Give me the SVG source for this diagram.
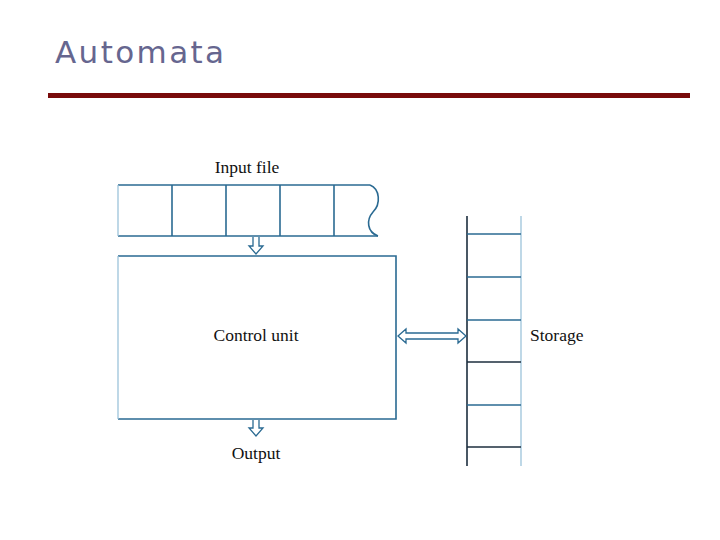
<svg xmlns="http://www.w3.org/2000/svg" width="720" height="540" viewBox="0 0 720 540">
<style>
.ln{stroke:#2a6a92;stroke-width:1.6;fill:none}
.lt{stroke:#9cc3da;stroke-width:1.3;fill:none}
.dk{stroke:#1c2e3e;stroke-width:1.6;fill:none}
.arr{stroke:#2a6a92;stroke-width:1.3;fill:#fff;stroke-linejoin:miter}
.lbl{font-family:"Liberation Serif",serif;font-size:17.5px;fill:#111}
</style>
<rect width="720" height="540" fill="#fff"/>
<text x="55" y="63" font-family="DejaVu Sans, sans-serif" font-size="31" fill="#66668f" letter-spacing="2.4">Automata</text>
<rect x="48" y="93" width="642" height="5" fill="#790b0b"/>
<g id="input-file">
<text class="lbl" x="247" y="173" text-anchor="middle">Input file</text>
<line class="ln" x1="118" y1="185" x2="370" y2="185"/>
<line class="ln" x1="118" y1="236" x2="378" y2="236"/>
<line class="lt" x1="118" y1="185" x2="118" y2="236"/>
<line class="ln" x1="172" y1="185" x2="172" y2="236"/>
<line class="ln" x1="226" y1="185" x2="226" y2="236"/>
<line class="ln" x1="280" y1="185" x2="280" y2="236"/>
<line class="ln" x1="334" y1="185" x2="334" y2="236"/>
<path class="ln" d="M370,185 C380,189 381,204 373,212 C366,220 367,232 378,236"/>
</g>
<g id="control-unit">
<path class="ln" d="M118,256 H396 V419 H118"/>
<line class="lt" x1="118" y1="256" x2="118" y2="419"/>
<text class="lbl" x="256" y="341" text-anchor="middle">Control unit</text>
</g>
<g id="output">
<text class="lbl" x="256" y="459" text-anchor="middle">Output</text>
</g>
<g id="storage">
<line class="dk" x1="467" y1="216" x2="467" y2="466"/>
<line class="lt" x1="521" y1="216" x2="521" y2="466"/>
<line class="ln" x1="467" y1="234" x2="521" y2="234"/>
<line class="ln" x1="467" y1="277" x2="521" y2="277"/>
<line class="ln" x1="467" y1="320" x2="521" y2="320"/>
<line class="dk" x1="467" y1="362" x2="521" y2="362"/>
<line class="ln" x1="467" y1="405" x2="521" y2="405"/>
<line class="dk" x1="467" y1="447" x2="521" y2="447"/>
<text class="lbl" x="530" y="341">Storage</text>
</g>
<g id="connectors">
<path class="arr" d="M253,237 V246 H249 L256,254 L263,246 H259 V237"/>
<path class="arr" d="M253,420 V428 H249 L256,436 L263,428 H259 V420"/>
<path class="arr" d="M398,336 L406,329 V333 H458 V329 L466,336 L458,343 V339 H406 V343 Z"/>
</g>
</svg>
